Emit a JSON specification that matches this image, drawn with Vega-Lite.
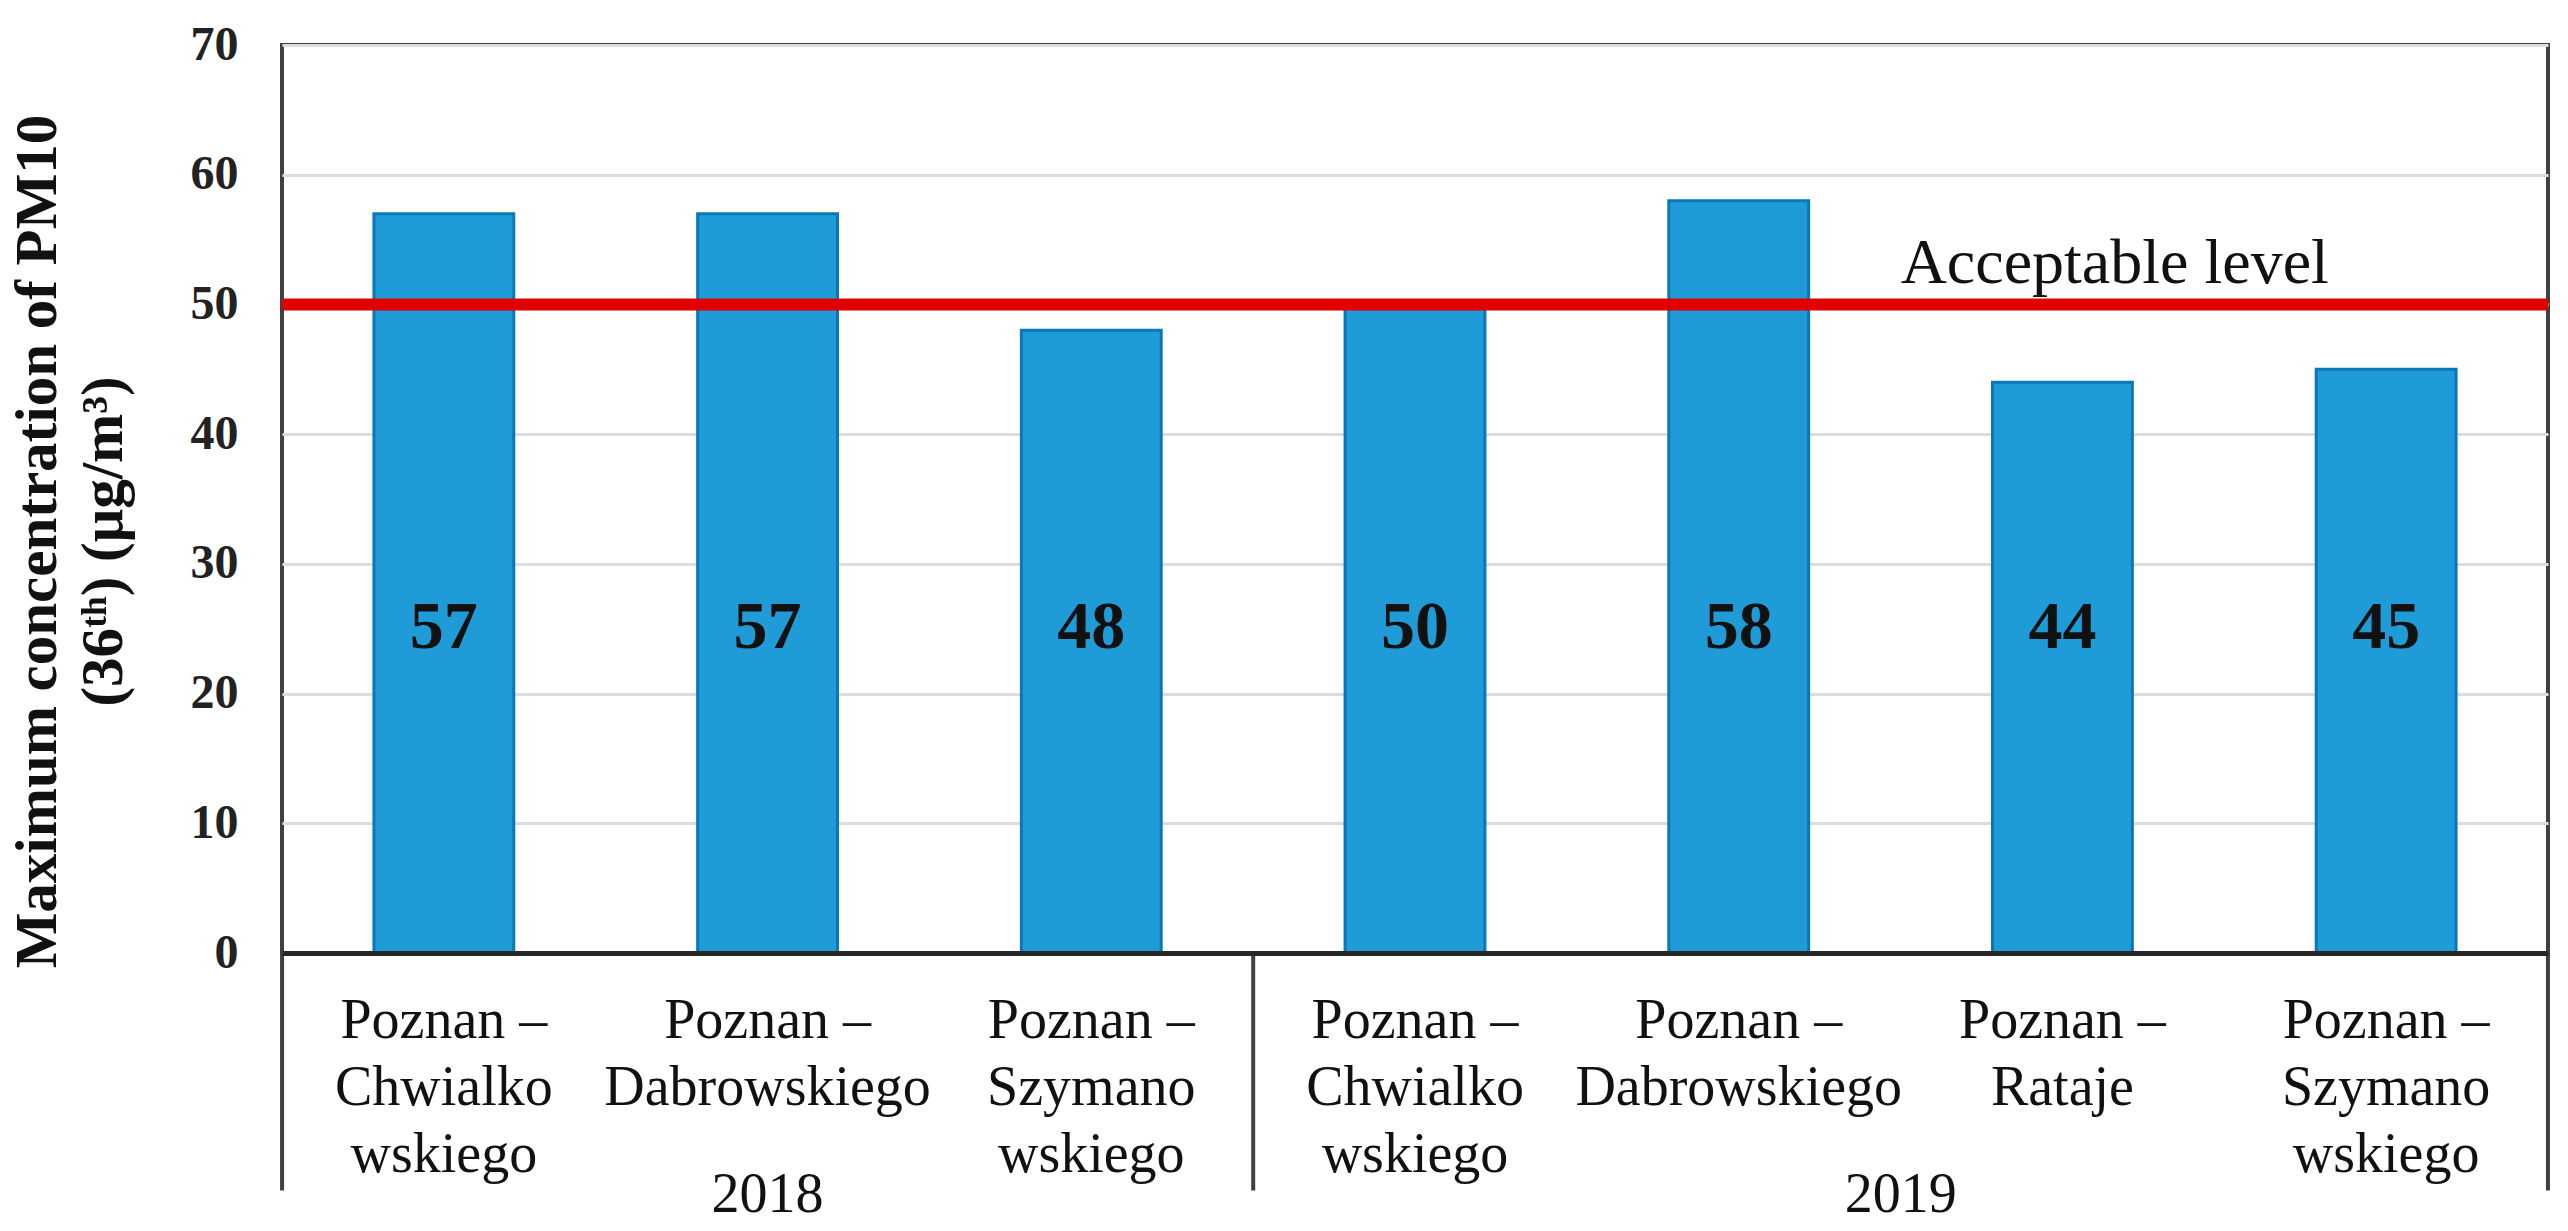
{
  "$schema": "https://vega.github.io/schema/vega-lite/v6.json",
  "width": 2266,
  "height": 908,
  "autosize": {"type": "none"},
  "padding": {"left": 282, "top": 45, "right": 20, "bottom": 278},
  "background": "white",
  "config": {"view": {"stroke": "#404040", "strokeWidth": 4}, "font": "Liberation Serif"},
  "datasets": {
    "pm10": [
      {"station": "2018|Poznan –|Chwialko|wskiego", "year": "2018", "value": 57},
      {"station": "2018|Poznan –|Dabrowskiego", "year": "2018", "value": 57},
      {"station": "2018|Poznan –|Szymano|wskiego", "year": "2018", "value": 48},
      {"station": "2019|Poznan –|Chwialko|wskiego", "year": "2019", "value": 50},
      {"station": "2019|Poznan –|Dabrowskiego", "year": "2019", "value": 58},
      {"station": "2019|Poznan –|Rataje", "year": "2019", "value": 44},
      {"station": "2019|Poznan –|Szymano|wskiego", "year": "2019", "value": 45}
    ],
    "threshold": [{"label": "Acceptable level", "value": 50}]
  },
  "data": {"name": "pm10"},
  "layer": [
    {
      "mark": {"type": "bar", "color": "#1f9bd7", "stroke": "#0a78b8", "strokeWidth": 3},
      "encoding": {
        "x": {
          "field": "station", "type": "nominal", "sort": null,
          "scale": {
            "domain": ["2018|Poznan –|Chwialko|wskiego", "2018|Poznan –|Dabrowskiego", "2018|Poznan –|Szymano|wskiego", "2019|Poznan –|Chwialko|wskiego", "2019|Poznan –|Dabrowskiego", "2019|Poznan –|Rataje", "2019|Poznan –|Szymano|wskiego"],
            "paddingInner": 0.568, "paddingOuter": 0.284
          },
          "axis": {
            "title": null,
            "labelExpr": "slice(split(datum.label, '|'), 1)",
            "labelAngle": 0,
            "labelFont": "Liberation Serif",
            "labelFontSize": 56,
            "labelColor": "#111111",
            "labelBaseline": "alphabetic",
            "labelPadding": 84,
            "labelLineHeight": 67,
            "labelLimit": 0,
            "labelOverlap": false,
            "labelBound": false,
            "ticks": false,
            "tickSize": 0,
            "domainColor": "#262626",
            "domainWidth": 5,
            "zindex": 1
          }
        },
        "y": {
          "field": "value", "type": "quantitative",
          "scale": {"domain": [0, 70], "nice": false, "zero": true},
          "axis": {
            "values": [0, 10, 20, 30, 40, 50, 60, 70],
            "grid": true, "gridColor": "#dcdcdc", "gridWidth": 3,
            "ticks": false, "tickSize": 0, "domain": false,
            "labelFont": "Liberation Serif", "labelFontWeight": "bold", "labelFontSize": 48,
            "labelColor": "#222222", "labelPadding": 44,
            "title": ["Maximum concentration of PM10", "(36ᵗʰ) (μg/m³)"],
            "titleFont": "Liberation Serif", "titleFontWeight": "bold", "titleFontSize": 59,
            "titleColor": "#111111",
            "titleLineHeight": 66,
            "titleAngle": 270,
            "titleAlign": "center",
            "titleBaseline": "alphabetic",
            "titleX": -227,
            "titleY": 496
          }
        }
      }
    },
    {
      "mark": {"type": "text", "font": "Liberation Serif", "fontWeight": "bold", "fontSize": 68, "color": "#111111", "baseline": "alphabetic", "align": "center"},
      "encoding": {
        "x": {"field": "station", "type": "nominal", "sort": null},
        "y": {"datum": 23.5},
        "text": {"field": "value", "type": "quantitative"}
      }
    },
    {
      "data": {"name": "threshold"},
      "mark": {"type": "rule", "color": "#e00000", "strokeWidth": 12},
      "encoding": {
        "y": {"field": "value", "type": "quantitative"}
      }
    },
    {
      "data": {"name": "threshold"},
      "mark": {"type": "text", "font": "Liberation Serif", "fontSize": 64, "color": "#111111", "align": "left", "baseline": "alphabetic", "dy": -21},
      "encoding": {
        "x": {"datum": "2019|Poznan –|Rataje", "type": "nominal", "bandPosition": -0.657},
        "y": {"field": "value", "type": "quantitative"},
        "text": {"field": "label", "type": "nominal"}
      }
    },
    {
      "transform": [{"filter": "indexof(['2018|Poznan –|Chwialko|wskiego', '2019|Poznan –|Chwialko|wskiego'], datum.station) >= 0"}],
      "mark": {"type": "rule", "color": "#404040", "strokeWidth": 4},
      "encoding": {
        "x": {"field": "station", "type": "nominal", "sort": null, "bandPosition": -0.657},
        "y": {"datum": 0},
        "y2": {"datum": -18.3}
      }
    },
    {
      "transform": [{"filter": "datum.station == '2019|Poznan –|Szymano|wskiego'"}],
      "mark": {"type": "rule", "color": "#404040", "strokeWidth": 4},
      "encoding": {
        "x": {"field": "station", "type": "nominal", "sort": null, "bandPosition": 1.657},
        "y": {"datum": 0},
        "y2": {"datum": -18.3}
      }
    },
    {
      "transform": [{"filter": "datum.station == '2018|Poznan –|Dabrowskiego'"}],
      "mark": {"type": "text", "font": "Liberation Serif", "fontSize": 56, "color": "#111111", "align": "center", "baseline": "alphabetic"},
      "encoding": {
        "x": {"field": "station", "type": "nominal", "sort": null},
        "y": {"datum": -20},
        "text": {"field": "year", "type": "nominal"}
      }
    },
    {
      "transform": [{"filter": "datum.station == '2019|Poznan –|Rataje'"}],
      "mark": {"type": "text", "font": "Liberation Serif", "fontSize": 56, "color": "#111111", "align": "center", "baseline": "alphabetic"},
      "encoding": {
        "x": {"field": "station", "type": "nominal", "sort": null, "bandPosition": -0.657},
        "y": {"datum": -20},
        "text": {"field": "year", "type": "nominal"}
      }
    }
  ]
}
